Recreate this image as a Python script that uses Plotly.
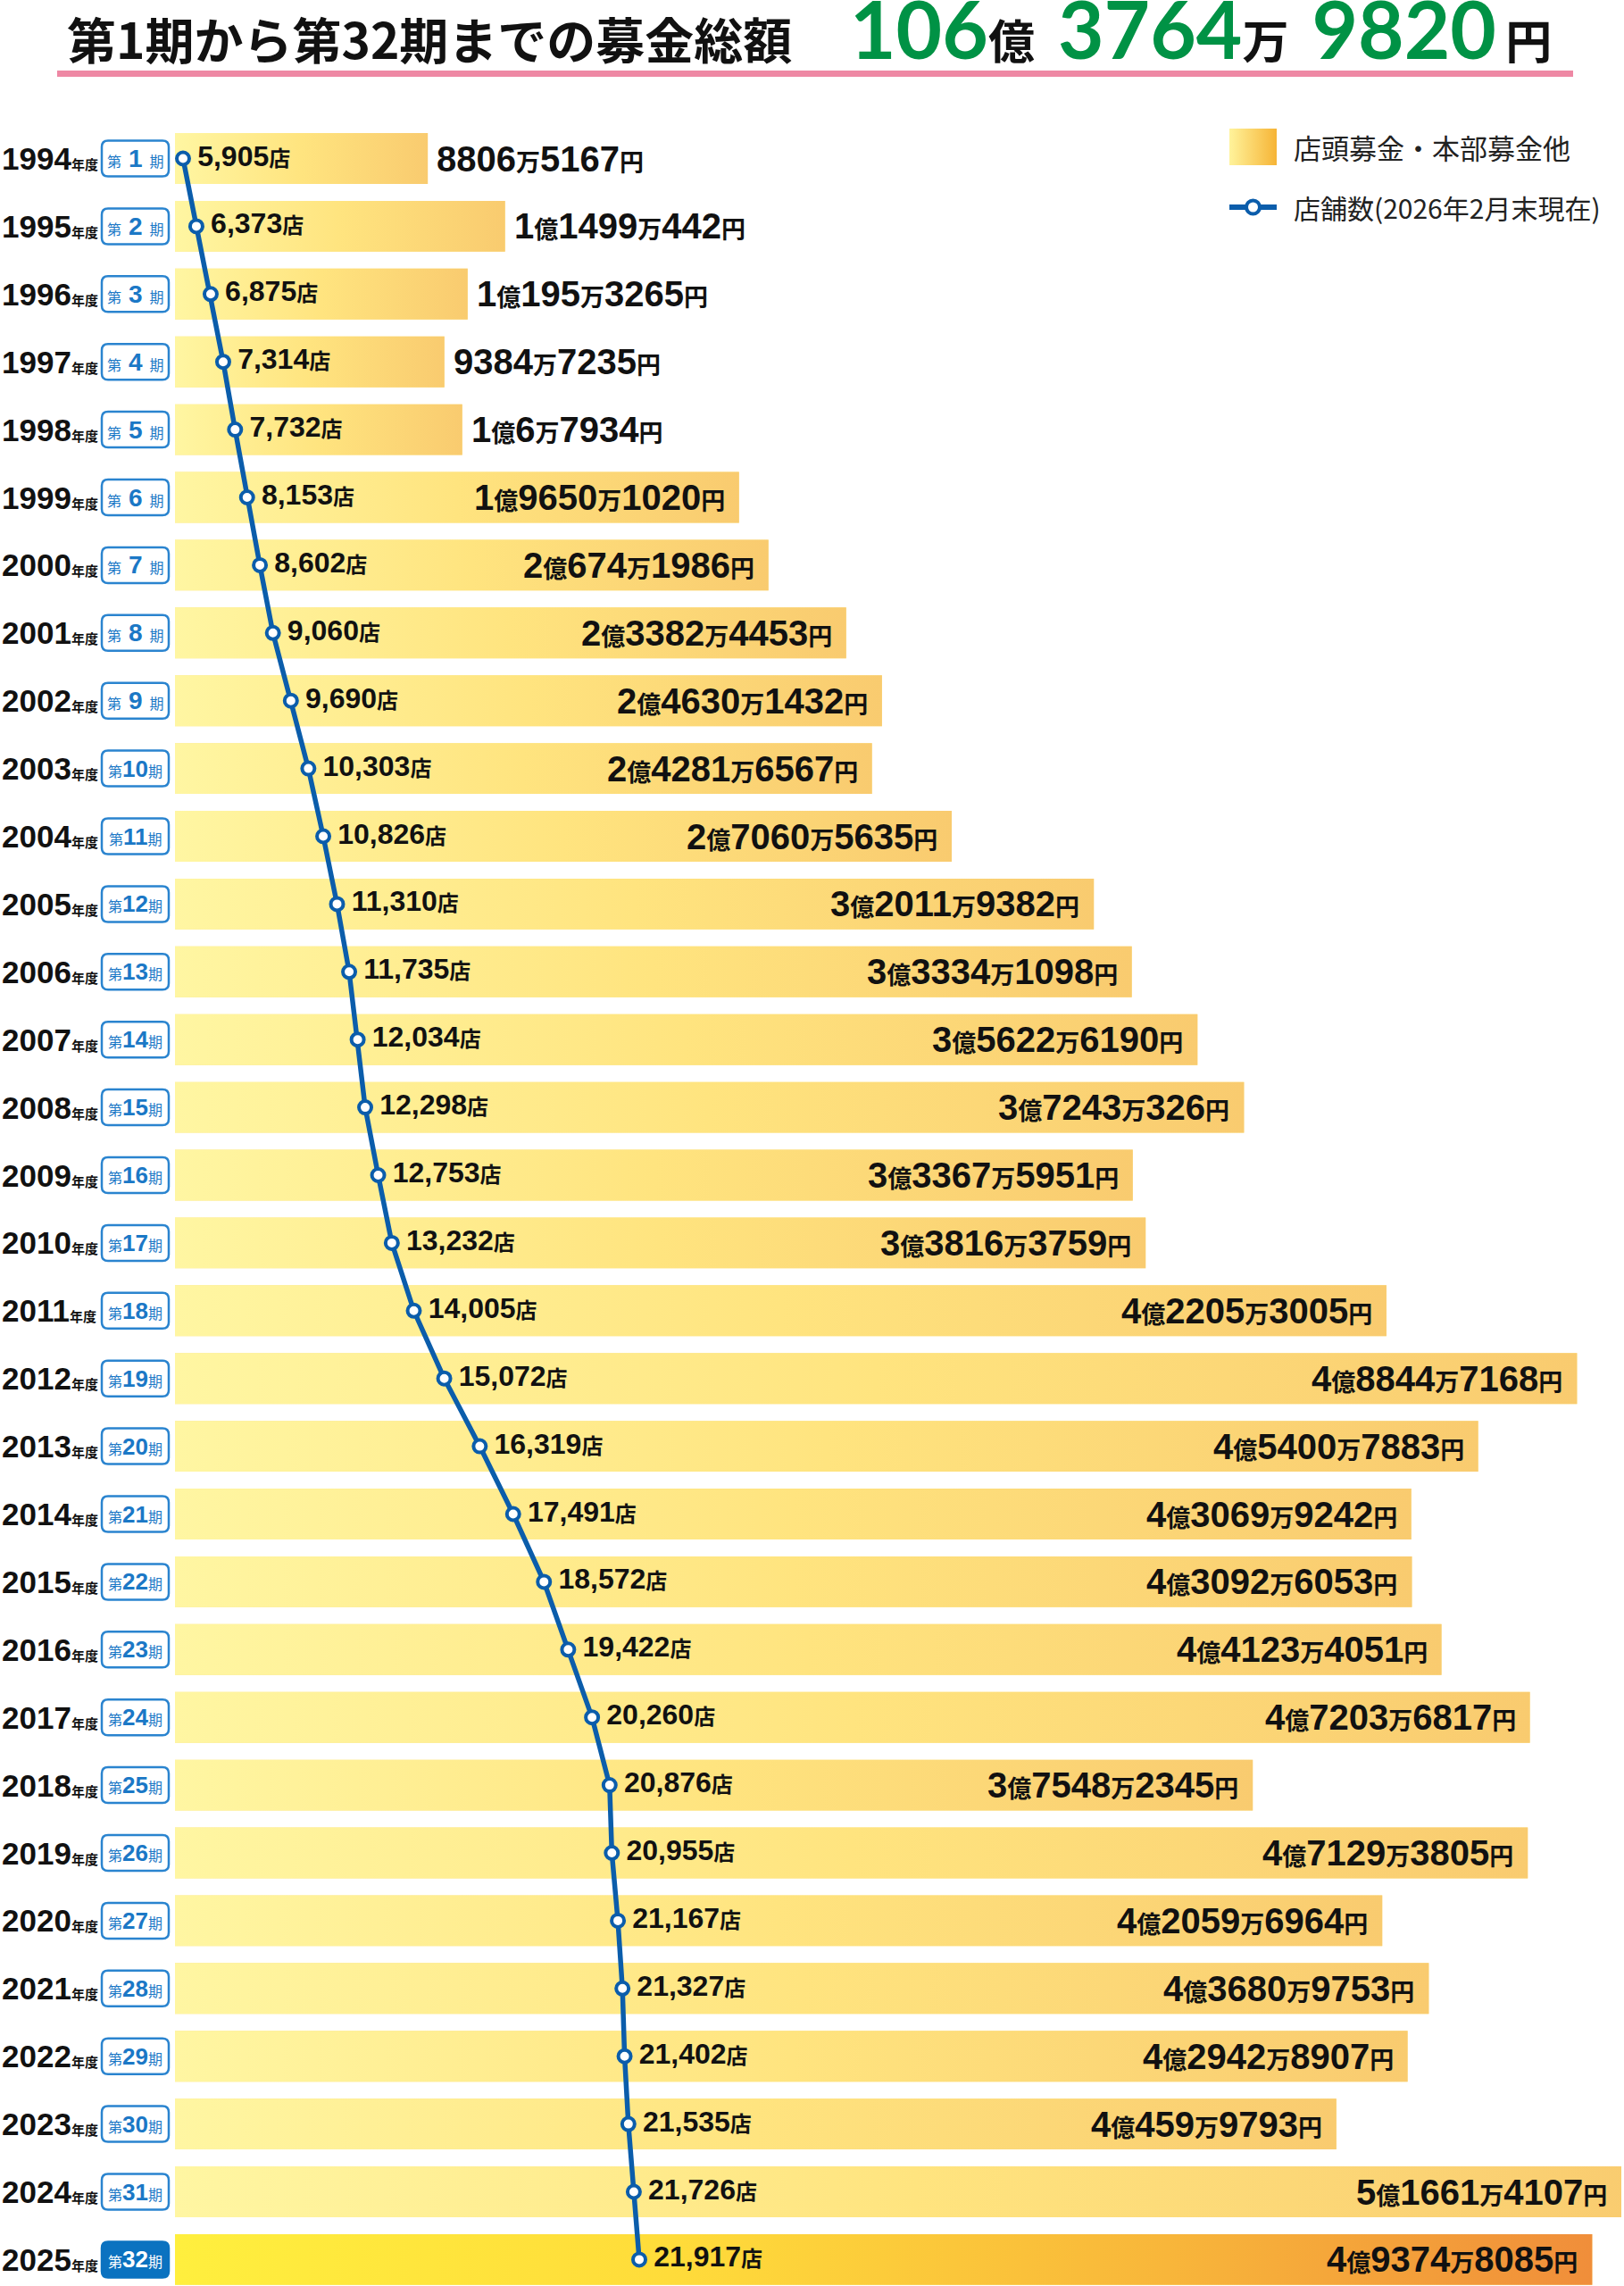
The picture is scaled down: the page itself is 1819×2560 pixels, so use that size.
import plotly.graph_objects as go

# ---------------- data ----------------
years = [1994, 1995, 1996, 1997, 1998, 1999, 2000, 2001, 2002, 2003, 2004, 2005,
         2006, 2007, 2008, 2009, 2010, 2011, 2012, 2013, 2014, 2015, 2016, 2017,
         2018, 2019, 2020, 2021, 2022, 2023, 2024, 2025]
periods = [1, 2, 3, 4, 5, 6, 7, 8, 9, 10, 11, 12, 13, 14, 15, 16,
           17, 18, 19, 20, 21, 22, 23, 24, 25, 26, 27, 28, 29, 30, 31, 32]
# 店頭募金・本部募金他 (yen)
amounts = [88065167, 114990442, 101953265, 93847235, 100067934, 196501020,
           206741986, 233824453, 246301432, 242816567, 270605635, 320119382,
           333341098, 356226190, 372430326, 333675951, 338163759, 422053005,
           488447168, 454007883, 430699242, 430926053, 441234051, 472036817,
           375482345, 471293805, 420596964, 436809753, 429428907, 404599793,
           516614107, 493748085]
# 店舗数
stores = [5905, 6373, 6875, 7314, 7732, 8153, 8602, 9060, 9690, 10303, 10826,
          11310, 11735, 12034, 12298, 12753, 13232, 14005, 15072, 16319, 17491,
          18572, 19422, 20260, 20876, 20955, 21167, 21327, 21402, 21535, 21726,
          21917]

title_text = "第1期から第32期までの募金総額"
legend_bar = "店頭募金・本部募金他"
legend_line = "店舗数(2026年2月末現在)"

# ---------------- style ----------------
W, H = 1819, 2560
PW = 1816                     # plot width (px)
BLUE = "#0B5DAB"
BOX_BLUE = "#2A84CF"
GREEN = "#009245"
DIG = "Liberation Sans, Arial, Noto Sans CJK JP, sans-serif"
CJK = "Noto Sans CJK JP, sans-serif"
CS_NORMAL = [[0, "#FFF6A2"], [0.5, "#FFE47F"], [1, "#F9CB6F"]]
CS_LAST = [[0, "#FFEF3E"], [0.35, "#FFDC3A"], [0.7, "#F8B63A"], [1, "#F08E3A"]]
HALF = 0.375                  # half bar thickness (row units)

n = len(years)
idx = list(range(n))


def px(p):
    return p / PW


def py(p):
    return 1 - p / H


def kspan(s, size, weight="bold", color=None):
    c = f"color:{color};" if color else ""
    return f"<span style=\"font-family:{CJK};font-size:{size}px;font-weight:{weight};{c}\">{s}</span>"


def money_text(v):
    oku, r = divmod(v, 10**8)
    man, yen = divmod(r, 10**4)
    out = ""
    if oku:
        out += f"{oku}" + kspan("億", 27)
    if man:
        out += f"{man}" + kspan("万", 27)
    out += f"{yen}" + kspan("円", 27)
    return out


fig = go.Figure()

# bars (base) + gradient overlay
fig.add_trace(go.Bar(x=amounts, y=idx, orientation="h", width=2 * HALF,
                     marker=dict(color="#FDE58A", line=dict(width=0)),
                     hoverinfo="skip", showlegend=False))
for i, v in enumerate(amounts):
    cs = CS_LAST if i == n - 1 else CS_NORMAL
    fig.add_trace(go.Scatter(
        x=[0, v, v, 0, 0], y=[i - HALF, i - HALF, i + HALF, i + HALF, i - HALF],
        mode="lines", line=dict(width=0), fill="toself",
        fillgradient=dict(type="horizontal", colorscale=cs),
        hoverinfo="skip", showlegend=False))

# store count line
store_text = ["\u2009" + f"{s:,}" + kspan("店", 24) for s in stores]
fig.add_trace(go.Scatter(
    x=stores, y=idx, xaxis="x2", yaxis="y", mode="lines+markers+text",
    text=store_text, textposition="middle right",
    textfont=dict(family=DIG, size=32, color="#111111", weight="bold"),
    line=dict(color=BLUE, width=5.5),
    marker=dict(size=14, color="white", line=dict(color=BLUE, width=4)),
    cliponaxis=False, hoverinfo="skip", showlegend=False))

# legend (custom)
fig.add_trace(go.Scatter(x=[0, 53, 53, 0, 0], y=[4, 4, 45, 45, 4], xaxis="x3", yaxis="y3",
                         mode="lines", line=dict(width=0), fill="toself",
                         fillgradient=dict(type="horizontal",
                                           colorscale=[[0, "#FFF39B"], [1, "#F6B436"]]),
                         hoverinfo="skip", showlegend=False))
fig.add_trace(go.Scatter(x=[0, 53], y=[92, 92], xaxis="x3", yaxis="y3", mode="lines",
                         line=dict(color=BLUE, width=6), hoverinfo="skip", showlegend=False))
fig.add_trace(go.Scatter(x=[26.5], y=[92], xaxis="x3", yaxis="y3", mode="markers",
                         marker=dict(size=15, color="white", line=dict(color=BLUE, width=4)),
                         hoverinfo="skip", showlegend=False))

XMAX = (PW - 196) / 3.215e-6
annotations = []
shapes = []
for i, (yr, p, v) in enumerate(zip(years, periods, amounts)):
    # year label
    annotations.append(dict(
        xref="paper", yref="y", x=px(0), y=i, xanchor="left", yanchor="middle",
        text=f"{yr}" + kspan("年度", 15), showarrow=False,
        font=dict(family=DIG, size=35, color="#111111", weight="bold")))
    # period box
    last = (i == n - 1)
    shapes.append(dict(
        type="path", xref="paper", yref="y", xsizemode="pixel", ysizemode="pixel",
        xanchor=px(151.5), yanchor=i,
        path="M -37.5,-13 Q -37.5,-20 -30.5,-20 L 30.5,-20 Q 37.5,-20 37.5,-13 "
             "L 37.5,13 Q 37.5,20 30.5,20 L -30.5,20 Q -37.5,20 -37.5,13 Z",
        fillcolor="#0B72C0" if last else "white",
        line=dict(color="#0B72C0" if last else BOX_BLUE, width=2.5), layer="above"))
    tc = "white" if last else "#1B78C6"
    if p < 10:
        ptxt = kspan("第\u2002", 16, "normal") + f"{p}" + kspan("\u2002期", 16, "normal")
        psize = 28
    else:
        ptxt = kspan("第", 16, "normal") + f"{p}" + kspan("期", 16, "normal")
        psize = 26
    annotations.append(dict(
        xref="paper", yref="y", x=px(151.5), y=i, xanchor="center", yanchor="middle",
        text=ptxt, showarrow=False,
        font=dict(family=DIG, size=psize, color=tc, weight="bold")))
    # money label
    inside = v >= 150e6
    annotations.append(dict(
        xref="x", yref="y", x=min(v, XMAX), y=i,
        xanchor="right" if inside else "left", xshift=-14 if inside else 8,
        yanchor="middle", text=money_text(v), showarrow=False,
        font=dict(family=DIG, size=40, color="#111111", weight="bold")))

# title
annotations.append(dict(
    xref="paper", yref="paper", x=px(73), y=py(42), xanchor="left", yanchor="middle",
    text=title_text, showarrow=False,
    font=dict(family=CJK, size=55, color="#111111", weight="bold")))
total = sum(amounts)
t_oku, t_r = divmod(total, 10**8)
t_man, t_yen = divmod(t_r, 10**4)
gspan = lambda s: f"<span style=\"color:{GREEN}\">{s}</span>"
annotations.append(dict(
    xref="paper", yref="paper", x=px(950), y=py(32), xanchor="left", yanchor="middle",
    text=gspan(t_oku) + kspan("億\u2002", 52, "bold", "#111111") + gspan(t_man)
    + kspan("万\u2002", 52, "bold", "#111111") + gspan(t_yen) + kspan("\u2009円", 52, "bold", "#111111"),
    showarrow=False, font=dict(family="Lato, Open Sans, sans-serif", size=89, color=GREEN, weight="bold")))
shapes.append(dict(type="line", xref="paper", yref="paper", x0=px(64), x1=px(1762),
                   y0=py(82.5), y1=py(82.5), line=dict(color="#EE88A4", width=7)))

# legend texts
annotations.append(dict(xref="paper", yref="paper", x=px(1447), y=py(164), xanchor="left",
                        yanchor="middle", text=legend_bar, showarrow=False,
                        font=dict(family=CJK, size=31, color="#222222")))
annotations.append(dict(xref="paper", yref="paper", x=px(1447), y=py(232), xanchor="left",
                        yanchor="middle", text=legend_line, showarrow=False,
                        font=dict(family=CJK, size=30, color="#222222")))

fig.update_layout(
    width=W, height=H,
    margin=dict(l=0, r=W - PW, t=0, b=0, autoexpand=False),
    paper_bgcolor="white", plot_bgcolor="white",
    showlegend=False, barmode="overlay",
    xaxis=dict(range=[-196 / 3.215e-6, XMAX], visible=False, fixedrange=True),
    xaxis2=dict(range=[-16.55 / 0.031914, (PW - 16.55) / 0.031914], overlaying="x",
                visible=False, fixedrange=True),
    yaxis=dict(range=[(H - 177.5) / 75.9, -177.5 / 75.9], visible=False, fixedrange=True),
    xaxis3=dict(domain=[px(1377), px(1430)], range=[0, 53], anchor="y3", visible=False),
    yaxis3=dict(domain=[py(250), py(140)], range=[110, 0], anchor="x3", visible=False),
    annotations=annotations, shapes=shapes,
)

fig.write_html("out.html")
